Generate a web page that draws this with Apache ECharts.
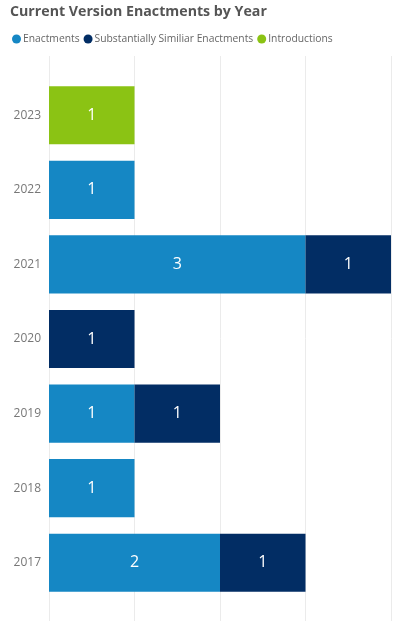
<!DOCTYPE html>
<html>
<head>
<meta charset="utf-8">
<script src="https://cdn.jsdelivr.net/npm/echarts@6/dist/echarts.min.js"></script>
<style>
  html, body { margin: 0; padding: 0; background: #fff; }
  #chart { width: 396px; height: 621px; }
</style>
</head>
<body>
<div id="chart"></div>
<script>
// years, top to bottom
const years = ['2023', '2022', '2021', '2020', '2019', '2018', '2017'];
const enactments = [null, 1, 3, null, 1, 1, 2];
const similarEnactments = [null, null, 1, 1, 1, null, 1];
const introductions = [1, null, null, null, null, null, null];
const xTicks = [0, 1, 2, 3, 4];

const chart = echarts.init(document.getElementById('chart'), null, { renderer: 'canvas' });
const font = '"Segoe UI", "Open Sans", sans-serif';

const barLabel = {
  show: true,
  position: 'inside',
  color: '#fff',
  fontSize: 16,
  fontFamily: font,
};

chart.setOption({
  animation: false,
  title: {
    text: 'Current Version Enactments by Year',
    left: 5,
    top: 0,
    textStyle: { fontSize: 14.2, fontWeight: 'bold', color: '#555', fontFamily: font },
  },
  legend: {
    left: 7,
    top: 29,
    icon: 'circle',
    itemWidth: 9,
    itemHeight: 9,
    itemGap: 4,
    textStyle: { fontSize: 10.3, color: '#666', fontFamily: font, padding: [0, 0, 0, -3] },
    data: ['Enactments', 'Substantially Similiar Enactments', 'Introductions'],
  },
  grid: [
    // background grid for the tall gridlines
    { left: 49, right: 5, top: 56, bottom: 0 },
    { left: 49, right: 5, top: 78, bottom: 21 },
  ],
  xAxis: [
    {
      gridIndex: 0, type: 'value', min: xTicks[0], max: xTicks[xTicks.length - 1], interval: 1,
      axisLabel: { show: false }, axisLine: { show: false }, axisTick: { show: false },
      splitLine: { lineStyle: { color: '#ebebeb', width: 1 } },
    },
    {
      gridIndex: 1, type: 'value', min: xTicks[0], max: xTicks[xTicks.length - 1], interval: 1,
      axisLabel: { show: false }, axisLine: { show: false }, axisTick: { show: false },
      splitLine: { show: false },
    },
  ],
  yAxis: [
    {
      gridIndex: 0, type: 'category', data: years, inverse: true, show: false,
    },
    {
      gridIndex: 1, type: 'category', data: years, inverse: true,
      axisLine: { show: false }, axisTick: { show: false },
      axisLabel: { color: '#777', fontSize: 12, fontFamily: font, margin: 8 },
    },
  ],
  series: [
    {
      name: 'Enactments', type: 'bar', stack: 'total', xAxisIndex: 1, yAxisIndex: 1,
      barCategoryGap: '22%', data: enactments, itemStyle: { color: '#1587c4' }, label: barLabel,
    },
    {
      name: 'Substantially Similiar Enactments', type: 'bar', stack: 'total', xAxisIndex: 1, yAxisIndex: 1,
      data: similarEnactments, itemStyle: { color: '#022d64' }, label: barLabel,
    },
    {
      name: 'Introductions', type: 'bar', stack: 'total', xAxisIndex: 1, yAxisIndex: 1,
      data: introductions, itemStyle: { color: '#8bc314' }, label: barLabel,
    },
  ],
});
</script>
</body>
</html>
